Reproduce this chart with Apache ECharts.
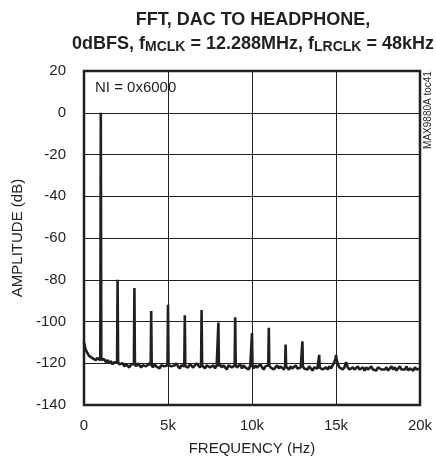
<!DOCTYPE html>
<html>
<head>
<meta charset="utf-8">
<script src="https://cdn.jsdelivr.net/npm/echarts@6/dist/echarts.min.js"></script>
<style>html,body{margin:0;padding:0;background:#fff}#c{width:436px;height:468px}</style>
</head>
<body>
<div id="c"></div>
<script>
// Noise floor, one value every 100 Hz from 0 to 20 kHz (dB)
var noiseStepHz = 100;
var noiseFloor = [
 -110, -113.5, -115, -116.5, -116, -117.5, -117, -118.5, -117.5, -118,
 -118.5, -119, -118, -119.5, -118.5, -120, -119, -120.5, -119.5, -120,
 -119.5, -120.5, -121, -120, -121.5, -120.5, -121, -122, -120.5, -121,
 -120.5, -121.5, -120, -121, -122, -121, -120.5, -121.5, -121, -120,
 -121, -122, -120.5, -121.5, -121, -122.5, -121, -120.5, -121.5, -122,
 -121, -120.5, -121.5, -122, -121, -120, -121.5, -122.5, -121, -120.5,
 -121.5, -121, -122, -120.5, -121, -122, -121.5, -120, -121, -122,
 -121, -121.5, -122.5, -121, -120.5, -122, -121.5, -121, -122.5, -121,
 -121.5, -120.5, -122, -121, -121.5, -123, -121, -120.5, -122, -121.5,
 -121, -122, -121.5, -120.5, -122.5, -121, -122, -121.5, -123, -121,
 -121.5, -122.5, -121, -122, -121.5, -120.5, -122, -123, -121.5, -122,
 -121, -122, -121.5, -123, -122, -121, -122.5, -121.5, -122, -123,
 -121.5, -122, -123, -121.5, -122.5, -122, -121, -122.5, -123, -122,
 -121.5, -122.5, -122, -123, -121.5, -122, -123.5, -122, -121.5, -122.5,
 -122, -121.5, -123, -122.5, -122, -123, -121.5, -122.5, -121, -119.5,
 -118, -120, -122, -121.5, -123, -122, -119.5, -122, -123, -122.5,
 -122, -123, -122.5, -121.5, -123, -122.5, -122, -123.5, -122, -123,
 -122.5, -121.5, -123, -122.5, -123.5, -122, -121.5, -123, -122.5, -123,
 -122, -123.5, -122.5, -121.5, -123, -122, -123.5, -122.5, -121.5, -123,
 -122.5, -123, -121.5, -123.5, -122.5, -122, -123.5, -122, -123, -122.5,
 -122.5
];
// Fundamental and harmonics (Hz, dB)
var harmonicFreqs = [1000, 2000, 3000, 4000, 5000, 6000, 7000, 8000, 9000, 10000, 11000, 12000, 13000, 14000, 15000];
var harmonicLevels = [0, -80, -84, -95, -92, -97, -94.5, -100.5, -98, -105.5, -103, -111, -109.5, -116, -116];
var xTickLabels = ['0', '5k', '10k', '15k', '20k'];
var yTicks = [20, 0, -20, -40, -60, -80, -100, -120, -140];

var data = [];
for (var i = 0; i < noiseFloor.length; i++) {
  var f = i * noiseStepHz;
  var h = harmonicFreqs.indexOf(f);
  if (h >= 0) {
    data.push([f - 30, noiseFloor[i]]);
    data.push([f, harmonicLevels[h]]);
    data.push([f + 30, noiseFloor[i]]);
  } else {
    data.push([f, noiseFloor[i]]);
  }
}

var ink = '#231f20';
var font = "'Liberation Sans', Arial, sans-serif";
var chart = echarts.init(document.getElementById('c'), null, {renderer: 'canvas'});
chart.setOption({
  animation: false,
  backgroundColor: '#fff',
  title: {
    left: 248, top: 3, textAlign: 'center',
    text: '{b|FFT, DAC TO HEADPHONE,}\n{b|0dBFS, f}{s|MCLK}{b| = 12.288MHz, f}{s|LRCLK}{b| = 48kHz}',
    textStyle: {
      fontFamily: font,
      rich: {
        b: {fontSize: 18, fontWeight: 'bold', color: ink, lineHeight: 24, fontFamily: font},
        s: {fontSize: 14, fontWeight: 'bold', color: ink, lineHeight: 24, padding: [7, 0, 0, 0], fontFamily: font}
      }
    }
  },
  grid: {left: 84, right: 16, top: 71, bottom: 63, show: true, borderColor: ink, borderWidth: 2.5, backgroundColor: 'transparent'},
  xAxis: {
    type: 'value', min: 0, max: 20000, interval: 5000,
    axisLine: {show: false}, axisTick: {show: false},
    splitLine: {show: true, lineStyle: {color: ink, width: 1}},
    axisLabel: {fontSize: 15, color: ink, fontFamily: font, margin: 13,
      formatter: function (v) { return xTickLabels[Math.round(v / 5000)]; }},
    name: 'FREQUENCY (Hz)', nameLocation: 'middle', nameGap: 36,
    nameTextStyle: {fontSize: 15, color: ink, fontFamily: font}
  },
  yAxis: {
    type: 'value', min: -140, max: 20, interval: 20,
    axisLine: {show: false}, axisTick: {show: false},
    splitLine: {show: true, lineStyle: {color: ink, width: 1}},
    axisLabel: {fontSize: 15, color: ink, fontFamily: font, margin: 18,
      formatter: function (v) { return String(yTicks[yTicks.indexOf(v)]); }},
    name: 'AMPLITUDE (dB)', nameLocation: 'middle', nameGap: 53,
    nameTextStyle: {fontSize: 15, color: ink, fontFamily: font}
  },
  series: [{
    type: 'line', data: data, showSymbol: false, symbol: 'none',
    lineStyle: {color: ink, width: 2.6}, clip: true
  }],
  graphic: [
    {type: 'text', left: 95, top: 80, style: {text: 'NI = 0x6000', fontSize: 15, fill: ink, fontFamily: font}},
    {type: 'text', x: 428, y: 110, rotation: Math.PI / 2,
      style: {text: 'MAX9880A toc41', fontSize: 10, fill: ink, fontFamily: font, align: 'center', verticalAlign: 'middle'}}
  ]
});
</script>
</body>
</html>
